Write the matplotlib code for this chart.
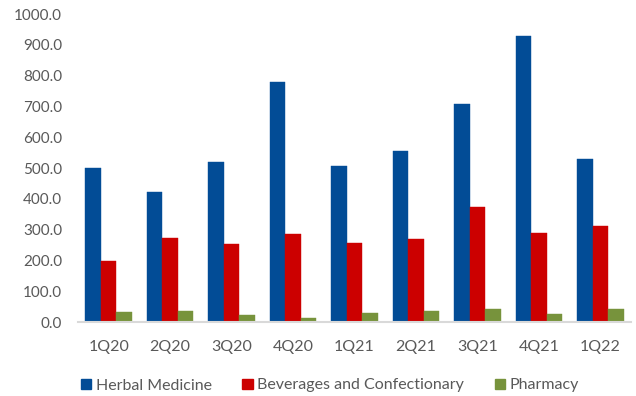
import numpy as np
import matplotlib
matplotlib.use("Agg")
import matplotlib.pyplot as plt
from matplotlib.patches import Patch

plt.rcParams['font.family'] = ['Lato', 'DejaVu Sans']

quarters = ["1Q20", "2Q20", "3Q20", "4Q20", "1Q21", "2Q21", "3Q21", "4Q21", "1Q22"]
herbal = [502, 424, 521, 781, 507, 557, 708, 930, 530]
beverages = [199, 273, 255, 285, 258, 269, 373, 290, 311]
pharmacy = [33, 36, 24, 15, 29, 37, 42, 27, 42]

series_names = ["Herbal Medicine", "Beverages and Confectionary", "Pharmacy"]
colors = ["#024C96", "#CC0000", "#77933C"]
text_color = "#595959"

fig = plt.figure(figsize=(6.36, 3.96), dpi=100)
ax = fig.add_axes([78 / 636, 73.7 / 396, 553 / 636, 308.3 / 396])

x = np.arange(len(quarters))
w = 0.252
for off, vals, col in zip((-w, 0, w), (herbal, beverages, pharmacy), colors):
    ax.bar(x + off, vals, width=w, color=col, edgecolor=col, linewidth=0.3)

ax.set_xlim(-0.5, len(quarters) - 0.5)
ax.set_ylim(0, 1000)
ax.set_yticks(np.arange(0, 1001, 100))
ax.yaxis.set_major_formatter(matplotlib.ticker.FormatStrFormatter("%.1f"))
ax.set_xticks(x)
ax.set_xticklabels(quarters)

ax.tick_params(axis='both', length=0, colors=text_color)
ax.tick_params(axis='y', pad=11.5, labelsize=11)
ax.tick_params(axis='x', pad=12.5, labelsize=11.5)

for side in ("top", "right", "left"):
    ax.spines[side].set_visible(False)
ax.spines["bottom"].set_color("#D9D9D9")
ax.spines["bottom"].set_linewidth(1.5)

handles = [Patch(facecolor=c, edgecolor=c) for c in colors]
fig.legend(handles, series_names, loc="center", bbox_to_anchor=(330 / 636, 1 - 385.5 / 396),
           ncol=3, frameon=False, fontsize=11.5, labelcolor=text_color,
           handlelength=0.65, handleheight=0.65, handletextpad=0.3, columnspacing=1.9)

fig.savefig("out.png", dpi=100)
